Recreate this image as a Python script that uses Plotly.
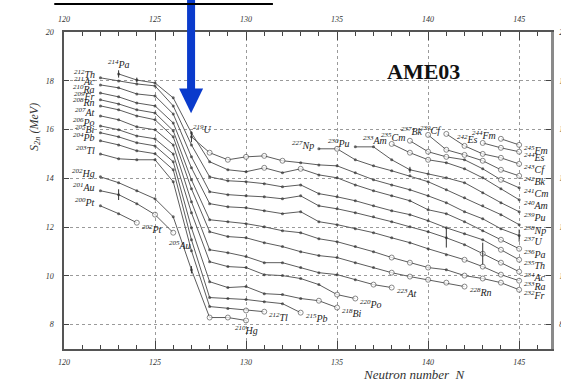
import plotly.graph_objects as go

# ---------------- data (S2n in MeV) ----------------
ELEMENTS = ["Pt", "Au", "Hg", "Tl", "Pb", "Bi", "Po", "At", "Rn", "Fr", "Ra", "Ac",
            "Th", "Pa", "U", "Np", "Pu", "Am", "Cm", "Bk", "Cf", "Es", "Fm"]
Z_NUMBERS = [78, 79, 80, 81, 82, 83, 84, 85, 86, 87, 88, 89,
             90, 91, 92, 93, 94, 95, 96, 97, 98, 99, 100]
N_FIRST = [122, 122, 122, 122, 122, 122, 122, 122, 122, 122, 122, 122,
           122, 123, 127, 134, 136, 138, 139, 140, 141, 143, 144]

S2N_PT = [12.87, 12.55, 12.18]
S2N_AU = [13.49, 13.33, 12.96, 12.51, 11.77]
S2N_HG = [14.06, 13.82, 13.49, 13.16, 12.42, 10.25, 8.29, 8.29, 8.17]
S2N_TL = [15.00, 14.80, 14.76, 14.76, 13.86, 11.03, 8.74, 8.66, 8.58, 8.53]
S2N_PB = [15.54, 15.37, 15.13, 15.01, 14.35, 11.48, 9.11, 9.07, 9.03, 8.94, 8.86, 8.49]
S2N_BI = [15.87, 15.70, 15.46, 15.33, 14.68, 11.97, 9.76, 9.52, 9.56, 9.27, 9.23, 9.07, 8.98, 8.70]
S2N_PO = [16.15, 15.99, 15.74, 15.62, 15.00, 12.59, 10.58, 10.38, 10.34, 10.05, 10.01, 9.89,
          9.64, 9.23, 9.07]
S2N_AT = [16.56, 16.40, 16.11, 15.99, 15.37, 13.04, 11.07, 10.95, 10.79, 10.54, 10.54, 10.34,
          10.13, 10.05, 9.84, 9.64, 9.52]
S2N_RN = [16.97, 16.81, 16.56, 16.40, 15.70, 13.57, 11.81, 11.61, 11.56, 11.36, 11.20, 10.99,
          10.83, 10.75, 10.54, 10.34, 10.13, 9.97, 9.84, 9.72, 9.56]
S2N_FR = [17.22, 17.05, 16.81, 16.68, 15.95, 13.94, 12.30, 12.22, 12.14, 12.01, 11.85, 11.77,
          11.52, 11.40, 11.20, 10.99, 10.75, 10.54, 10.34, 10.25, 10.01, 9.89, 9.72, 9.43]
S2N_RA = [17.50, 17.34, 17.09, 16.97, 16.27, 14.43, 12.96, 12.83, 12.79, 12.67, 12.55, 12.63,
          12.22, 12.10, 11.93, 11.77, 11.56, 11.36, 11.11, 10.87, 10.66, 10.38, 10.05, 9.80]
S2N_AC = [17.83, 17.71, 17.46, 17.38, 16.64, 14.88, 13.45, 13.33, 13.28, 13.24, 13.16, 13.28,
          12.87, 12.75, 12.59, 12.42, 12.22, 12.01, 11.81, 11.56, 11.28, 10.91, 10.54, 10.17]
S2N_TH = [18.12, 17.99, 17.87, 17.79, 16.97, 15.37, 14.06, 13.90, 13.86, 13.78, 13.65, 13.73,
          13.37, 13.24, 13.08, 12.87, 12.67, 12.51, 12.26, 11.97, 11.73, 11.48, 11.07, 10.66]
S2N_PA = [18.28, 18.03, 17.91, 17.30, 15.86, 14.68, 14.35, 14.27, 14.43, 14.23, 14.39, 14.14,
          14.02, 13.73, 13.49, 13.28, 13.08, 12.71, 12.55, 12.22, 11.85, 11.48, 11.11]
S2N_U = [15.70, 15.05, 14.76, 14.88, 14.92, 14.72, 14.64, 14.55, 14.51, 14.23, 13.94, 13.73,
         13.53, 13.28, 13.00, 12.63, 12.34, 11.93, 11.65]
S2N_NP = [15.21, 15.21, 14.76, 14.51, 14.31, 14.10, 13.86, 13.53, 13.20, 12.87, 12.51, 12.10]
S2N_PU = [15.29, 15.29, 14.76, 14.35, 14.18, 14.02, 13.82, 13.41, 13.00, 12.63]
S2N_AM = [15.41, 15.05, 14.76, 14.64, 14.39, 14.02, 13.57, 13.12]
S2N_CM = [15.54, 15.09, 14.88, 14.76, 14.39, 13.94, 13.61]
S2N_BK = [15.78, 15.17, 14.96, 14.72, 14.35, 14.10]
S2N_CF = [15.82, 15.33, 15.00, 14.84, 14.59]
S2N_ES = [15.45, 15.25, 15.09]
S2N_FM = [15.62, 15.37]

# neutron numbers whose values are extrapolated (open circles)
OPEN_PT = [124]
OPEN_AU = [125, 126]
OPEN_HG = [128, 129, 130]
OPEN_TL = [130, 131]
OPEN_PB = [133]
OPEN_BI = [134, 135]
OPEN_PO = [135, 136]
OPEN_AT = [137, 138]
OPEN_RN = [138, 139, 140, 141, 142]
OPEN_FR = [138, 139, 140, 142, 143, 144, 145]
OPEN_RA = [142, 143, 144, 145]
OPEN_AC = [143, 144, 145]
OPEN_TH = [144, 145]
OPEN_PA = [131, 133, 144, 145]
OPEN_U = [128, 129, 130, 131, 132]
OPEN_NP = [135]
OPEN_PU = []
OPEN_AM = [138, 139, 140]
OPEN_CM = [139, 140, 141, 144]
OPEN_BK = [140, 141, 142, 143, 144, 145]
OPEN_CF = [141, 142, 143, 144, 145]
OPEN_ES = [143, 144, 145]
OPEN_FM = [144, 145]

# visible error bars
ERR_ELEMENT = ["Pa", "Pa", "Au", "U", "Hg", "Pu", "Ac", "Ac", "U"]
ERR_N = [123, 124, 123, 127, 127, 139, 141, 143, 145]
ERR_MEV = [0.15, 0.10, 0.22, 0.22, 0.15, 0.12, 0.40, 0.45, 0.25]

S2N_ALL = [S2N_PT, S2N_AU, S2N_HG, S2N_TL, S2N_PB, S2N_BI, S2N_PO, S2N_AT, S2N_RN, S2N_FR,
           S2N_RA, S2N_AC, S2N_TH, S2N_PA, S2N_U, S2N_NP, S2N_PU, S2N_AM, S2N_CM, S2N_BK,
           S2N_CF, S2N_ES, S2N_FM]
OPEN_ALL = [OPEN_PT, OPEN_AU, OPEN_HG, OPEN_TL, OPEN_PB, OPEN_BI, OPEN_PO, OPEN_AT, OPEN_RN,
            OPEN_FR, OPEN_RA, OPEN_AC, OPEN_TH, OPEN_PA, OPEN_U, OPEN_NP, OPEN_PU, OPEN_AM,
            OPEN_CM, OPEN_BK, OPEN_CF, OPEN_ES, OPEN_FM]

X_TICKS = [120, 125, 130, 135, 140, 145]
Y_TICKS = [8, 10, 12, 14, 16, 18, 20]

# ---------------- styles ----------------
SERIF = "Liberation Serif"
LINE_COL = "#5c5c5c"
DOT_COL = "#333333"
LABEL_FONT = dict(family=SERIF, size=10, color="#222", style="italic")
START_STYLE = {"Pa": ("center", 0, 10), "U": ("left", 0, 8)}
END_STYLE = {"Pt": ("left", 3, -6), "Au": ("left", -6, -12), "Hg": ("center", 0, -10)}

fig = go.Figure()
annotations = []

chains = []
for el, z, n0, vals, opn in zip(ELEMENTS, Z_NUMBERS, N_FIRST, S2N_ALL, OPEN_ALL):
    ns = list(range(n0, n0 + len(vals)))
    chains.append((el, z, ns, vals, opn))
    fig.add_trace(go.Scatter(x=ns, y=vals, mode="lines",
                             line=dict(color=LINE_COL, width=1), hoverinfo="skip"))

for el, z, ns, vals, opn in chains:
    sym, size, fill, lcol, lw = [], [], [], [], []
    for n in ns:
        if n in opn:
            sym.append("circle"); size.append(5); fill.append("white")
            lcol.append("#444"); lw.append(0.9)
        else:
            sym.append("circle"); size.append(3); fill.append(DOT_COL)
            lcol.append(DOT_COL); lw.append(0)
    fig.add_trace(go.Scatter(x=ns, y=vals, mode="markers",
                             marker=dict(symbol=sym, size=size, color=fill,
                                         line=dict(color=lcol, width=lw)),
                             hoverinfo="skip"))
    xa, xs, ys = START_STYLE.get(el, ("right", -3, 4))
    annotations.append(dict(x=ns[0], y=vals[0], xref="x", yref="y",
                            text=f"<sup>{z + ns[0]}</sup>{el}", showarrow=False,
                            xanchor=xa, yanchor="middle", xshift=xs, yshift=ys,
                            font=LABEL_FONT))
    xa, xs, ys = END_STYLE.get(el, ("left", 3, -5))
    annotations.append(dict(x=ns[-1], y=vals[-1], xref="x", yref="y",
                            text=f"<sup>{z + ns[-1]}</sup>{el}", showarrow=False,
                            xanchor=xa, yanchor="middle", xshift=xs, yshift=ys,
                            font=LABEL_FONT))

# error bars
ex, ey, ee = [], [], []
for el, n, e in zip(ERR_ELEMENT, ERR_N, ERR_MEV):
    for cel, z, ns, vals, opn in chains:
        if cel == el and n in ns:
            ex.append(n); ey.append(vals[ns.index(n)]); ee.append(e)
fig.add_trace(go.Scatter(x=ex, y=ey, mode="markers", marker=dict(size=1, color=DOT_COL),
                         error_y=dict(type="data", array=ee, visible=True, color=DOT_COL,
                                      thickness=1, width=0),
                         hoverinfo="skip"))

fig.add_trace(go.Scatter(x=[X_TICKS[0]], y=[Y_TICKS[0]], xaxis="x2", yaxis="y2",
                         mode="markers", marker=dict(size=0.1, opacity=0), hoverinfo="skip"))

tickfont = dict(family=SERIF, size=8, color="#333", style="italic")
xr = [120, 146.75]
yr = [7, 20]
axis_common = dict(showline=True, linecolor="#555", linewidth=1.5, ticks="inside",
                   tickcolor="#444", zeroline=False, tickfont=tickfont, automargin=False)

fig.update_layout(
    width=561, height=385,
    margin=dict(l=64, r=10, t=32, b=36, autoexpand=False),
    paper_bgcolor="white", plot_bgcolor="white",
    showlegend=False,
    xaxis=dict(range=xr, tick0=120, dtick=5, ticklen=8, showgrid=True, gridcolor="#9a9a9a",
               griddash="dot", gridwidth=1,
               minor=dict(dtick=1, tick0=120, ticks="inside", ticklen=4, tickcolor="#444",
                          showgrid=False),
               ticklabelstandoff=5, **axis_common),
    xaxis2=dict(range=xr, overlaying="x", side="top", tick0=120, dtick=5, ticklen=8,
                showgrid=False,
                minor=dict(dtick=1, tick0=120, ticks="inside", ticklen=4, tickcolor="#444"),
                ticklabelstandoff=5, **axis_common),
    yaxis=dict(range=yr, tick0=8, dtick=2, ticklen=5, showgrid=True, gridcolor="#9a9a9a",
               griddash="dot", gridwidth=1, ticklabelstandoff=7, **axis_common),
    yaxis2=dict(range=yr, overlaying="y", side="right", tick0=8, dtick=2, ticklen=5,
                showgrid=False, ticklabelstandoff=4, automargin=False,
                showline=True, linecolor="#8a8a8a", linewidth=2.5, ticks="inside",
                tickcolor="#444", zeroline=False, tickfont=tickfont),
)

annotations += [
    dict(x=0.739, y=0.874, xref="paper", yref="paper", text="<b>AME03</b>", showarrow=False,
         font=dict(family=SERIF, size=22, color="#111"), xanchor="center", yanchor="middle"),
    dict(x=-0.06, y=0.70, xref="paper", yref="paper", text="S<sub>2n</sub> (MeV)",
         showarrow=False, textangle=-90,
         font=dict(family=SERIF, size=12, color="#333", style="italic"),
         xanchor="center", yanchor="middle"),
    dict(x=0.72, y=-0.082, xref="paper", yref="paper", text="Neutron number  N",
         showarrow=False, font=dict(family=SERIF, size=13, color="#333", style="italic"),
         xanchor="center", yanchor="middle"),
]
fig.update_layout(annotations=annotations)

fig.add_shape(type="rect", xref="x", yref="paper", x0=126.76, x1=127.20, y0=0.815, y1=1.12,
              fillcolor="#0a3bcc", line=dict(width=0), layer="above")
fig.add_shape(type="path", xref="x", yref="paper",
              path="M 126.32,0.822 L 127.64,0.822 L 126.98,0.744 Z",
              fillcolor="#0a3bcc", line=dict(width=0), layer="above")
fig.add_shape(type="line", xref="paper", yref="paper", x0=-0.02, x1=0.429, y0=1.088, y1=1.088,
              line=dict(color="black", width=2))

fig.write_html("out.html")
